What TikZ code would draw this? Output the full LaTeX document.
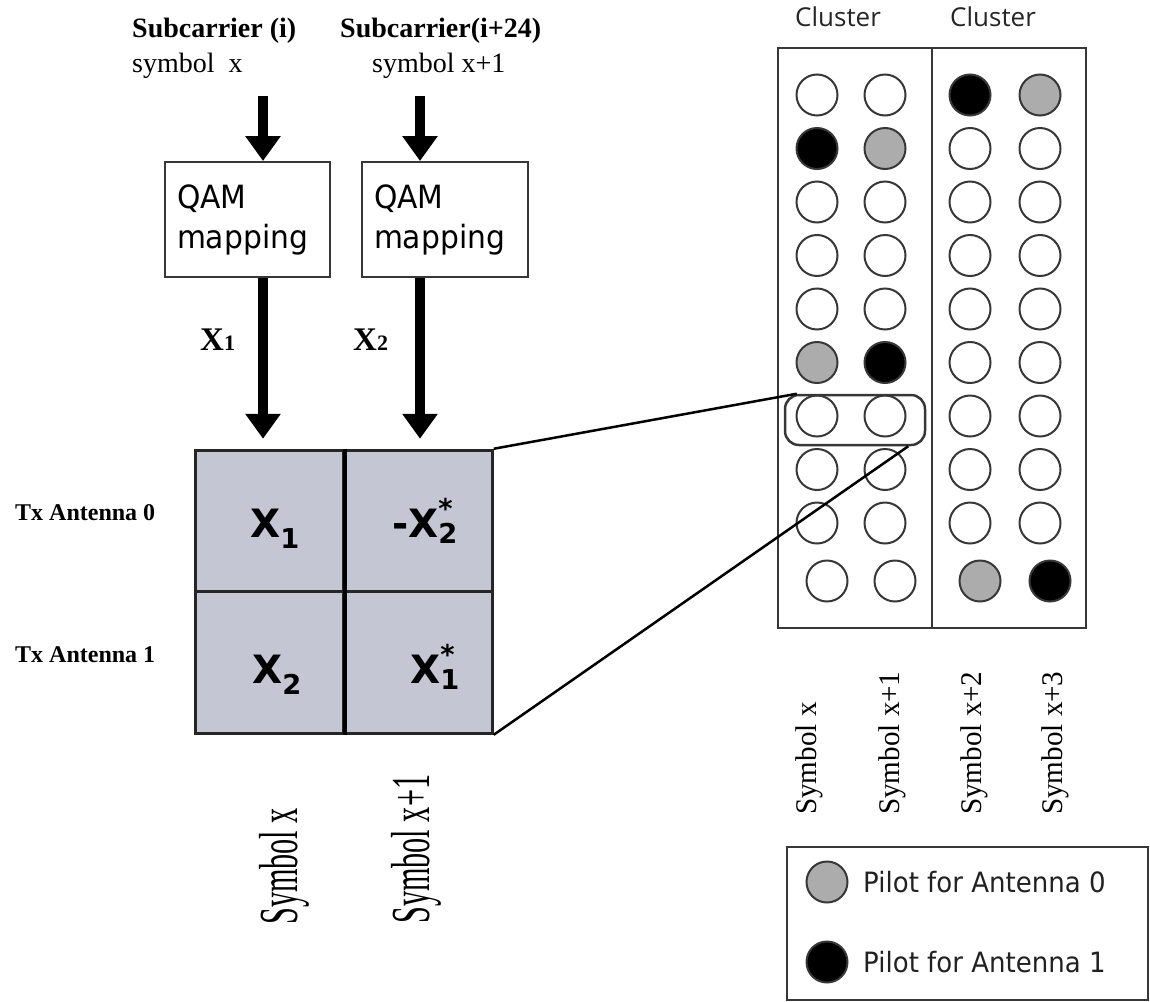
\documentclass[tikz,border=0pt]{standalone}
\usepackage{fontspec}
\usepackage{amsmath}
\setmainfont{Liberation Serif}
\newfontfamily\uifont[FakeStretch=0.93]{DejaVu Sans}
\newfontfamily\cellfont{DejaVu Sans}
\newfontfamily\clusterfont{Open Sans}
\usetikzlibrary{arrows.meta}
\newcommand\fsz[1]{\fontsize{#1}{#1}\selectfont}
\definecolor{cellfill}{RGB}{196,198,212}
\definecolor{pilotgray}{RGB}{172,172,172}
\definecolor{framegray}{RGB}{55,55,55}
\definecolor{legendtext}{RGB}{34,34,34}

\begin{document}
\begin{tikzpicture}[x=1pt,y=-1pt,
  txt/.style={inner sep=0pt, anchor=base west},
  bigarrow/.style={line width=10pt, -{Triangle[width=34pt,length=25pt]}},
  qambox/.style={draw=framegray, line width=2pt, minimum height=115pt,
    inner xsep=0pt, inner ysep=0pt, align=left, font=\uifont\fsz{32}},
  cell/.style={draw=black!85, line width=3pt, fill=cellfill,
    minimum width=148.5pt, minimum height=141.5pt, inner sep=0pt},
  celltxt/.style={txt, font=\cellfont\bfseries\fsz{39}},
  dot/.style={circle, draw=framegray, line width=2pt, minimum size=41pt, inner sep=0pt},
  frame/.style={draw=framegray, line width=2.2pt, minimum width=154pt, minimum height=580pt, inner sep=0pt},
  vlabel/.style={inner sep=0pt, anchor=base west, rotate=90},
  link/.style={line width=2.5pt, black}
]
\useasboundingbox (0,0) rectangle (1150,1001);

% ---- inputs -------------------------------------------------------------
\node[txt, font=\bfseries\fsz{28}] (h1) at (132,37) {Subcarrier (i)};
\node[txt, font=\fsz{28}] (s1) at (132,72) {symbol\ \ x};
\node[txt, font=\bfseries\fsz{28}] (h2) at (340,37) {Subcarrier(i+24)};
\node[txt, font=\fsz{28}] (s2) at (372,72) {symbol x+1};

\coordinate (a1) at (263,96);
\coordinate (a2) at (420,96);

% ---- QAM mappers ----------------------------------------------------------
\node[qambox, minimum width=165pt, text width=141pt] (q1) at (247.5,219.5) {QAM\\[8pt]mapping};
\node[qambox, minimum width=166pt, text width=142pt] (q2) at (445,219.5) {QAM\\[8pt]mapping};

% ---- Alamouti block -------------------------------------------------------
\node[cell] (c11) at (269.5,521) {};
\node[cell] (c12) at (418,521) {};
\node[cell] (c21) at (269.5,662.5) {};
\node[cell] (c22) at (418,662.5) {};
\draw[line width=4pt, black] (c11.north east) -- (c21.south east);

\node[celltxt] (t11) at (250,537) {$\textbf{X}_{\textbf{1}}$};
\node[celltxt] (t12) at (392,537) {-$\textbf{X}_{\textbf{2}}^{\textbf{*}}$};
\node[celltxt] (t21) at (252,683) {$\textbf{X}_{\textbf{2}}$};
\node[celltxt] (t22) at (410,683) {$\textbf{X}_{\textbf{1}}^{\textbf{*}}$};

\node[txt, font=\bfseries\fsz{24}] (tx0) at (15,520) {Tx Antenna 0};
\node[txt, font=\bfseries\fsz{24}] (tx1) at (15,662) {Tx Antenna 1};

% ---- arrows ---------------------------------------------------------------
\draw[bigarrow] (a1) -- (a1 |- q1.north);
\draw[bigarrow] (a2) -- (a2 |- q2.north);
\draw[bigarrow, shorten >=10pt] (a1 |- q1.south) -- (a1 |- c11.north);
\draw[bigarrow, shorten >=10pt] (a2 |- q2.south) -- (a2 |- c12.north);

\node[txt, font=\bfseries\fsz{33}] (x1) at (200,350) {X{\fsz{22}1}};
\node[txt, font=\bfseries\fsz{33}] (x2) at (353,350) {X{\fsz{22}2}};

\node[vlabel, font=\fsz{55}] (sx) at (297,925) {\scalebox{0.55}[1]{Symbol x}};
\node[vlabel, font=\fsz{55}] (sx1) at (429,924) {\scalebox{0.55}[1]{Symbol x+1}};

% ---- pilot clusters -------------------------------------------------------
\node[txt, font=\clusterfont\fsz{26}, text=black!85] (k1) at (795,26) {Cluster};
\node[txt, font=\clusterfont\fsz{26}, text=black!85] (k2) at (950,26) {Cluster};

\node[frame] (cl1) at (855,338) {};
\node[frame] (cl2) at (1009,338) {};

\foreach \row/\yy/\dx/\fa/\fb/\fc/\fd in {
   1/95/0/white/white/black/pilotgray,
   2/148.5/0/black/pilotgray/white/white,
   3/202/0/white/white/white/white,
   4/255.5/0/white/white/white/white,
   5/309/0/white/white/white/white,
   6/362.5/0/pilotgray/black/white/white,
   7/416/0/white/white/white/white,
   8/469.5/0/white/white/white/white,
   9/523/0/white/white/white/white,
   10/581/10/white/white/pilotgray/black} {
  \node[dot, fill=\fa] (d\row-1) at ({817+\dx},\yy) {};
  \node[dot, fill=\fb] (d\row-2) at ({885+\dx},\yy) {};
  \node[dot, fill=\fc] (d\row-3) at ({970+\dx},\yy) {};
  \node[dot, fill=\fd] (d\row-4) at ({1040+\dx},\yy) {};
}

\node[draw=framegray, line width=2.5pt, rounded corners=14pt,
      minimum width=140pt, minimum height=50pt, inner sep=0pt] (sel) at (855,420) {};

\draw[link] (c12.north east) -- ([xshift=13pt]sel.north west);
\draw[link] (c22.south east) -- ([xshift=-18pt]sel.south east);

\node[vlabel, font=\fsz{30}] (ls1) at (816,815) {\scalebox{0.97}[1]{Symbol x}};
\node[vlabel, font=\fsz{30}] (ls2) at (899,815) {\scalebox{0.97}[1]{Symbol x+1}};
\node[vlabel, font=\fsz{30}] (ls3) at (981,815) {\scalebox{0.97}[1]{Symbol x+2}};
\node[vlabel, font=\fsz{30}] (ls4) at (1062,815) {\scalebox{0.97}[1]{Symbol x+3}};

% ---- legend ---------------------------------------------------------------
\node[draw=framegray, line width=2.2pt, minimum width=361pt, minimum height=153pt,
      inner sep=0pt] (legend) at (967.5,923.5) {};
\node[dot, fill=pilotgray] (lg0) at (827,882) {};
\node[dot, fill=black] (lg1) at (827,962) {};
\node[txt, font=\uifont\fsz{28}, text=legendtext] (lt0) at (863,892) {Pilot for Antenna 0};
\node[txt, font=\uifont\fsz{28}, text=legendtext] (lt1) at (863,972) {Pilot for Antenna 1};
\end{tikzpicture}
\end{document}
